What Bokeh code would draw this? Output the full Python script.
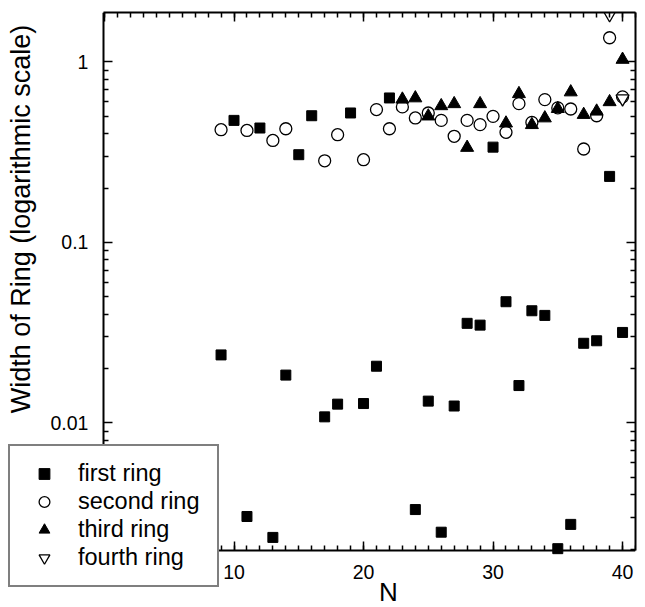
import math
from bokeh.plotting import figure
from bokeh.models import (Range1d, LinearAxis, LogAxis, FixedTicker, SingleIntervalTicker,
                          CustomJSTickFormatter, Legend, LegendItem, Label)
from bokeh.embed import file_html
from bokeh.resources import INLINE

# ---- data ----
first_n = [9, 10, 11, 12, 13, 14, 15, 16, 17, 18, 19, 20, 21, 22, 24, 25, 26, 27, 28, 29,
           30, 31, 32, 33, 34, 35, 36, 37, 38, 39, 40]
first_w = [0.0238, 0.474, 0.00303, 0.430, 0.00232, 0.0184, 0.306, 0.503, 0.0108, 0.0127,
           0.521, 0.0128, 0.0206, 0.631, 0.00331, 0.0132, 0.00248, 0.0124, 0.0356, 0.0348,
           0.337, 0.0469, 0.0161, 0.0418, 0.0394, 0.00201, 0.00274, 0.0276, 0.0285, 0.232, 0.0317]

second_n = [9, 11, 13, 14, 17, 18, 20, 21, 22, 23, 24, 25, 26, 27, 28, 29, 30, 31, 32, 33,
            34, 35, 36, 37, 38, 39, 40]
second_w = [0.421, 0.417, 0.367, 0.426, 0.283, 0.395, 0.287, 0.544, 0.426, 0.563, 0.489,
            0.521, 0.474, 0.387, 0.474, 0.449, 0.499, 0.407, 0.587, 0.462, 0.618, 0.556,
            0.548, 0.329, 0.503, 1.36, 0.64]

third_n = [23, 24, 25, 26, 27, 28, 29, 31, 32, 33, 34, 35, 36, 37, 38, 39, 40]
third_w = [0.62, 0.63, 0.50, 0.57, 0.585, 0.335, 0.585, 0.457, 0.665, 0.448, 0.488, 0.55,
           0.68, 0.51, 0.532, 0.6, 1.03]

fourth_n = [39, 40]
fourth_w = [1.83, 0.626]

y_major = [0.01, 0.1, 1]
y_minor = [m * 10.0 ** e for e in range(-3, 1) for m in range(2, 10)]

# axis extents of the data area
X0, X1 = -0.08, 41.0
Y0, Y1 = 0.00197, 1.877

FONT = "Liberation Sans"
W, H = 645, 607

p = figure(width=W, height=H,
           x_range=Range1d(-8.03, X1), y_range=Range1d(0.000949, Y1),
           y_axis_type="log", output_backend="svg", toolbar_location=None,
           min_border_left=0, min_border_right=10, min_border_top=12, min_border_bottom=0)

p.grid.visible = False
p.outline_line_color = None
p.background_fill_color = "white"
p.border_fill_color = "white"

xticker = SingleIntervalTicker(interval=10, num_minor_ticks=10)
yticker = FixedTicker(ticks=y_major, minor_ticks=y_minor)
yfmt = CustomJSTickFormatter(code="return Number(tick.toPrecision(3)).toString();")


def style_axis(ax, labels=True):
    ax.axis_line_width = 2
    ax.axis_line_color = "black"
    ax.major_tick_in = 9
    ax.major_tick_out = 0
    ax.minor_tick_in = 5
    ax.minor_tick_out = 0
    ax.major_tick_line_width = 1.5
    ax.minor_tick_line_width = 1.5
    ax.major_tick_line_color = "black"
    ax.minor_tick_line_color = "black"
    if labels:
        ax.major_label_text_font = FONT
        ax.major_label_text_font_size = "19.5px"
        ax.major_label_text_color = "black"
    else:
        ax.major_label_text_font_size = "1px"
        ax.major_label_text_color = None
        ax.major_label_standoff = 0


xa = p.xaxis[0]
xa.ticker = xticker
style_axis(xa)
xa.major_label_standoff = 15
xa.fixed_location = Y0
xa.bounds = (X0, X1)

ya = p.yaxis[0]
ya.ticker = yticker
ya.formatter = yfmt
style_axis(ya)
ya.major_label_standoff = 15
ya.fixed_location = X0
ya.bounds = (Y0, Y1)

top = LinearAxis(ticker=xticker, bounds=(X0, X1))
style_axis(top, labels=False)
p.add_layout(top, "above")

right = LogAxis(ticker=yticker, bounds=(Y0, Y1))
style_axis(right, labels=False)
p.add_layout(right, "right")

p.add_layout(Label(text="Width of Ring (logarithmic scale)", x=20.5, y=H - 218.5,
                   x_units="screen", y_units="screen", angle=math.pi / 2,
                   text_align="center", text_baseline="alphabetic",
                   text_font=FONT, text_font_size="27px", text_color="black"))
p.add_layout(Label(text="N", x=388, y=H - 591,
                   x_units="screen", y_units="screen",
                   text_align="center", text_baseline="alphabetic",
                   text_font=FONT, text_font_size="26px", text_color="black"))

r1 = p.scatter(first_n, first_w, marker="square", size=10, fill_color="black",
               line_color="black")
r2 = p.scatter(second_n, second_w, marker="circle", size=12, fill_color="white",
               line_color="black", line_width=1.3)
r3 = p.scatter(third_n, third_w, marker="triangle", size=13, fill_color="black",
               line_color="black")
r4 = p.scatter(fourth_n, fourth_w, marker="inverted_triangle", size=13, fill_color="white",
               line_color="black", line_width=1.3)

legend = Legend(items=[
    LegendItem(label="first ring", renderers=[r1]),
    LegendItem(label="second ring", renderers=[r2]),
    LegendItem(label="third ring", renderers=[r3]),
    LegendItem(label="fourth ring", renderers=[r4]),
], location=(8, H - 587))
legend.label_text_font = FONT
legend.label_text_font_size = "23.5px"
legend.label_text_color = "black"
legend.glyph_width = 40
legend.glyph_height = 27
legend.label_height = 27
legend.label_width = 125
legend.label_standoff = 14
legend.spacing = 1
legend.padding = 14
legend.margin = 0
legend.border_line_color = "black"
legend.border_line_width = 2
legend.background_fill_color = "white"
legend.background_fill_alpha = 1.0
p.add_layout(legend, "center")

html = file_html(p, INLINE)
html = html.replace("<head>", "<head><style>html,body{overflow:hidden}</style>", 1)
open("out.html", "w").write(html)
